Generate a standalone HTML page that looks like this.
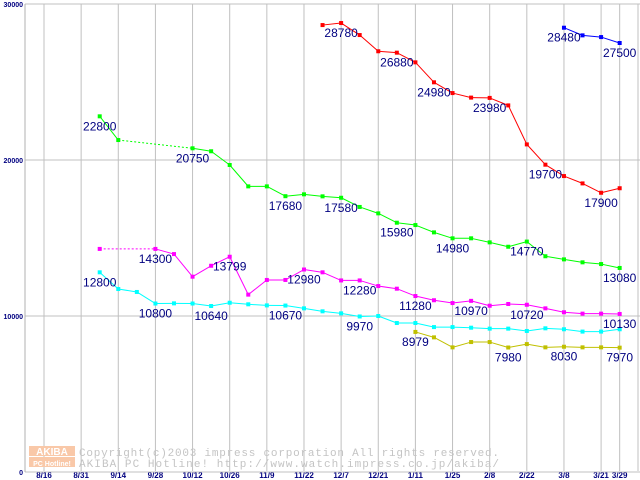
<!DOCTYPE html>
<html><head><meta charset="utf-8"><style>
html,body{margin:0;padding:0;background:#fff;width:640px;height:480px;overflow:hidden}
svg{display:block}
</style></head><body>
<svg id="chart" width="640" height="480" xmlns="http://www.w3.org/2000/svg" font-family="Liberation Sans, sans-serif">
<g id="grid"></g>
<g id="watermark">
  <rect x="29" y="446" width="46" height="10" fill="#f9c8a8"/>
  <rect x="29" y="457" width="46" height="10" fill="#f9c8a8"/>
  <text x="52" y="455" font-size="10" fill="#fff" text-anchor="middle" font-weight="bold">AKIBA</text>
  <text x="52" y="466" font-size="7" fill="#fff" text-anchor="middle" font-weight="bold">PC Hotline!</text>
  <text x="79" y="456" font-size="11" fill="#c4c4c4" font-family="Liberation Mono, monospace" textLength="420">Copyright(c)2003 impress corporation All rights reserved.</text>
  <text x="79" y="467" font-size="11" fill="#c4c4c4" font-family="Liberation Mono, monospace" textLength="420">AKIBA PC Hotline!  http://www.watch.impress.co.jp/akiba/</text>
</g>
<g id="series"></g>
<g id="labels"></g>
</svg>
<script>
const xLabels = ["8/16","8/31","9/14","9/28","10/12","10/26","11/9","11/22","12/7","12/21","1/11","1/25","2/8","2/22","3/8","3/21","3/29"];
const xLabelWeeks = [0,2,4,6,8,10,12,14,16,18,20,22,24,26,28,30,31];
const yTicks = [0,10000,20000,30000];
const N = null;
const redValues = [N,N,N,N,N,N,N,N,N,N,N,N,N,N,N,28650,28780,28010,26970,26880,26260,24980,24290,24000,23980,23500,21000,19700,18970,18500,17900,18190];
const blueValues = [N,N,N,N,N,N,N,N,N,N,N,N,N,N,N,N,N,N,N,N,N,N,N,N,N,N,N,N,28480,27990,27880,27500];
const greenValues = [N,N,N,22800,21280,N,N,N,20750,20560,19680,18310,18310,17680,17800,17670,17580,16990,16580,15980,15830,15360,14980,14980,14720,14440,14770,13830,13630,13440,13330,13080];
const magentaValues = [N,N,N,14300,N,N,14300,13970,12520,13220,13799,11370,12310,12310,12980,12800,12280,12280,11920,11750,11280,11010,10830,10970,10660,10770,10720,10490,10240,10150,10150,10130];
const cyanValues = [N,N,N,12800,11730,11540,10800,10810,10800,10640,10850,10750,10680,10670,10490,10300,10170,9970,10000,9550,9550,9290,9290,9250,9190,9190,9040,9210,9150,9000,9000,9150];
const oliveValues = [N,N,N,N,N,N,N,N,N,N,N,N,N,N,N,N,N,N,N,N,8979,8630,7990,8330,8330,7980,8200,7990,8030,7990,7990,7970];
const redLabels = [16,19,21,24,27,30];
const blueLabels = [28,31];
const greenLabels = [3,8,13,16,19,22,26,31];
const magentaLabels = [6,10,14,17,20,23,26,31];
const cyanLabels = [3,6,9,13,17];
const oliveLabels = [20,25,28,31];

const NS = "http://www.w3.org/2000/svg";
const X0 = 44, STEP = 18.57, LEFT = 25, RIGHT = 640;
function xs(i){ return X0 + i*STEP; }
function ys(v){ return 472 - v*0.0156; }
function mk(tag, attrs, parent){
  const e = document.createElementNS(NS, tag);
  for (const k in attrs) e.setAttribute(k, attrs[k]);
  parent.appendChild(e); return e;
}
const grid = document.getElementById('grid');
const sg = document.getElementById('series');
const lg = document.getElementById('labels');

xLabelWeeks.forEach((w, k) => {
  const l = mk('line', {x1: xs(w), x2: xs(w), y1: 4, y2: 471, stroke: '#c0c0c0', 'stroke-width': 1}, grid);
  
  
  const t = mk('text', {x: xs(w), y: 478, 'font-size': 8, 'font-weight': 'bold', fill: '#000080', 'text-anchor': 'middle'}, grid);
  t.textContent = xLabels[k];
  
  
});
const rb = mk('line', {x1: 638, x2: 638, y1: 4, y2: 471, stroke: '#c0c0c0'}, grid);


yTicks.forEach(v => {
  const l = mk('line', {x1: LEFT, x2: RIGHT, y1: ys(v), y2: ys(v), stroke: '#c0c0c0', 'stroke-width': 1}, grid);
  
  
  const t = mk('text', {x: 23, y: ys(v) + 3, 'font-size': 7, 'font-weight': 'bold', fill: '#000080', 'text-anchor': 'end'}, grid);
  t.textContent = String(v);
  
  
});
const ya = mk('line', {x1: LEFT, x2: LEFT, y1: 4, y2: 472, stroke: '#b0b0b0'}, grid);



function drawSeries(vals, color, name, labelIdx){
  const g = mk('g', {}, sg);
  
  
  let prev = -1;
  vals.forEach((v, i) => {
    if (v === null) return;
    if (prev >= 0) {
      const seg = mk('line', {x1: xs(prev), y1: ys(vals[prev]), x2: xs(i), y2: ys(v), stroke: color, 'stroke-width': 1}, g);
      if (i - prev > 1) seg.setAttribute('stroke-dasharray', '2,2');
      
      
    }
    prev = i;
  });
  vals.forEach((v, i) => {
    if (v === null) return;
    const r = mk('rect', {x: xs(i) - 2, y: ys(v) - 2, width: 4, height: 4, fill: color}, g);
    
    
  });
  labelIdx.forEach(i => {
    const t = mk('text', {x: xs(i), y: ys(vals[i]) + 14, 'font-size': 12, fill: '#000080', 'text-anchor': 'middle'}, lg);
    t.textContent = String(vals[i]);
    
    
  });
}
drawSeries(cyanValues, '#00ffff', 'cyan', cyanLabels);
drawSeries(oliveValues, '#c0c000', 'olive', oliveLabels);
drawSeries(magentaValues, '#ff00ff', 'magenta', magentaLabels);
drawSeries(greenValues, '#00ff00', 'green', greenLabels);
drawSeries(redValues, '#ff0000', 'red', redLabels);
drawSeries(blueValues, '#0000ff', 'blue', blueLabels);
</script>
</body></html>
